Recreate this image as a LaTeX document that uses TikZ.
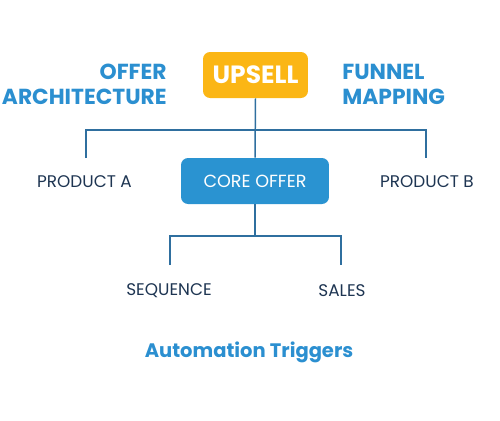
\documentclass[tikz,border=0pt]{standalone}
\usepackage{fontspec}
\setmainfont{Poppins}
\usepackage{xcolor}
\usetikzlibrary{positioning,calc}
\definecolor{upsellorange}{HTML}{FBB615}
\definecolor{coreblue}{HTML}{2A93D1}
\definecolor{headblue}{HTML}{2B8FD0}
\definecolor{linkblue}{HTML}{2F6F9F}
\definecolor{labelnavy}{HTML}{1E3552}
\tikzset{
  box/.style={rounded corners=4pt, text=white, inner sep=0pt},
  heading/.style={text=headblue, font=\fontsize{12.4}{14.4}\selectfont\bfseries, inner sep=0pt},
  leaf/.style={text=labelnavy, font=\fontsize{9.6}{11}\selectfont, inner sep=0pt},
  link/.style={draw=linkblue, line width=0.85pt}
}
\begin{document}
\begin{tikzpicture}[x=0.02cm, y=-0.02cm]
\useasboundingbox (0,0) rectangle (500,420);
% boxes
\node[box, fill=upsellorange, minimum width=2.1cm, minimum height=0.92cm, font=\fontsize{14.2}{16}\selectfont\bfseries] (upsell) at (255.5,75) {UPSELL};
\node[box, fill=coreblue, minimum width=2.96cm, minimum height=0.92cm, font=\fontsize{10}{12}\selectfont] (core) at (255,181) {CORE OFFER};
% side headings
\node[heading, align=right, anchor=east] (offer) at (167,84.5) {OFFER\\ARCHITECTURE};
\node[heading, align=left, anchor=west] (funnel) at (342,84.5) {FUNNEL\\MAPPING};
% leaves
\node[leaf] (proda) at (84.5,182) {PRODUCT A};
\node[leaf] (prodb) at (427,182) {PRODUCT B};
\node[leaf] (seq) at (169,291) {SEQUENCE};
\node[leaf] (sales) at (342,291) {SALES};
\node[heading, font=\fontsize{11.1}{13}\selectfont\bfseries] (trig) at (249,352) {Automation Triggers};
% connectors
\coordinate (ja) at (86,130);
\coordinate (jb) at (426,130);
\coordinate (ta) at (86,158);
\coordinate (tb) at (426,158);
\draw[link] (upsell.south) -- (core.north);
\draw[link] (ta) -- (ja) -- (jb) -- (tb);
\coordinate (js) at (170,236);
\coordinate (jl) at (341,236);
\draw[link] (core.south) -- ($(core.south)+(0,32)$);
\draw[link] ($(js)+(0,29)$) -- (js) -- (jl) -- ($(jl)+(0,29)$);
\end{tikzpicture}
\end{document}
